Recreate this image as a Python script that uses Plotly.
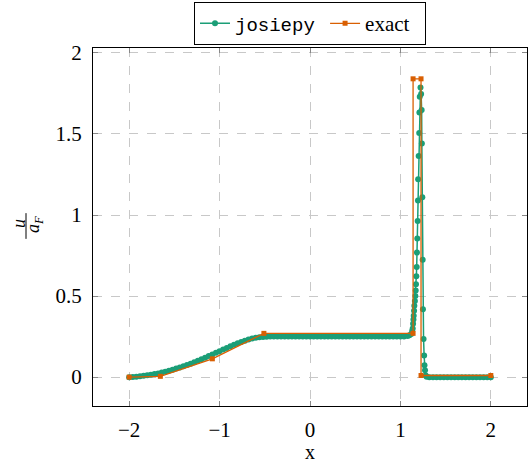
import plotly.graph_objects as go

# ---- data ----
josiepy_x = [
    -2.00, -1.96, -1.92, -1.88, -1.84, -1.80, -1.76, -1.72, -1.68, -1.64,
    -1.60, -1.56, -1.52, -1.48, -1.44, -1.40, -1.36, -1.32, -1.28, -1.24,
    -1.20, -1.16, -1.12, -1.08, -1.04, -1.00, -0.96, -0.92, -0.88, -0.84,
    -0.80, -0.76, -0.72, -0.68, -0.64, -0.60, -0.56, -0.52, -0.48, -0.44,
    -0.40, -0.36, -0.32, -0.28, -0.24, -0.20, -0.16, -0.12, -0.08, -0.04,
    0.00, 0.04, 0.08, 0.12, 0.16, 0.20, 0.24, 0.28, 0.32, 0.36,
    0.40, 0.44, 0.48, 0.52, 0.56, 0.60, 0.64, 0.68, 0.72, 0.76,
    0.80, 0.84, 0.88, 0.92, 0.96, 1.00, 1.04, 1.08, 1.10, 1.12,
    1.130, 1.136, 1.140, 1.144, 1.147, 1.151, 1.154, 1.160, 1.165, 1.169,
    1.172, 1.176, 1.180, 1.183, 1.187, 1.191, 1.194, 1.196, 1.202, 1.208,
    1.210, 1.214, 1.222, 1.229, 1.235, 1.237, 1.242, 1.246, 1.249, 1.256,
    1.262, 1.266, 1.272, 1.280, 1.290,
    1.32, 1.36, 1.40, 1.44, 1.48, 1.52, 1.56, 1.60, 1.64, 1.68,
    1.72, 1.76, 1.80, 1.84, 1.88, 1.92, 1.96, 2.00,
]
josiepy_y = [
    0.000, 0.001, 0.003, 0.005, 0.008, 0.011, 0.015, 0.019, 0.023, 0.028,
    0.034, 0.040, 0.046, 0.053, 0.060, 0.067, 0.075, 0.083, 0.092, 0.101,
    0.110, 0.120, 0.130, 0.140, 0.150, 0.160, 0.170, 0.180, 0.190, 0.200,
    0.209, 0.217, 0.225, 0.232, 0.238, 0.243, 0.246, 0.248, 0.249, 0.250,
    0.250, 0.250, 0.250, 0.250, 0.250, 0.250, 0.250, 0.250, 0.250, 0.250,
    0.250, 0.250, 0.250, 0.250, 0.250, 0.250, 0.250, 0.250, 0.250, 0.250,
    0.250, 0.250, 0.250, 0.250, 0.250, 0.250, 0.250, 0.250, 0.250, 0.250,
    0.250, 0.250, 0.250, 0.250, 0.250, 0.250, 0.251, 0.254, 0.258, 0.266,
    0.285, 0.300, 0.330, 0.355, 0.378, 0.410, 0.440, 0.470, 0.500, 0.535,
    0.573, 0.622, 0.680, 0.768, 0.855, 0.963, 1.090, 1.221, 1.364, 1.506,
    1.632, 1.730, 1.787, 1.746, 1.648, 1.441, 1.110, 0.724, 0.419, 0.236,
    0.134, 0.073, 0.043, 0.010, 0.002,
    0.0, 0.0, 0.0, 0.0, 0.0, 0.0, 0.0, 0.0, 0.0, 0.0,
    0.0, 0.0, 0.0, 0.0, 0.0, 0.0, 0.0, 0.0,
]
exact_x = [-2.00, -1.655, -1.08, -0.51, 1.14, 1.14, 1.228, 1.228, 2.00]
exact_y = [0.000, 0.005, 0.113, 0.270, 0.270, 1.840, 1.840, 0.010, 0.010]

x_ticks = [-2, -1, 0, 1, 2]
y_ticks = [0, 0.5, 1, 1.5, 2]
y_ticklabels = ["0", "0.5", "1", "1.5", "2"]

GREEN = "#1b9e77"
ORANGE = "#d95f02"
SERIF = "Liberation Serif"

fig = go.Figure()
fig.add_trace(go.Scatter(
    x=josiepy_x, y=josiepy_y, mode="lines+markers",
    name='<span style="font-family:Liberation Mono;font-size:19px">josiepy</span>&nbsp;',
    line=dict(color=GREEN, width=1.5),
    marker=dict(symbol="circle", size=6, color=GREEN),
))
fig.add_trace(go.Scatter(
    x=exact_x, y=exact_y, mode="lines+markers", name="exact&nbsp;&nbsp;",
    line=dict(color=ORANGE, width=1.3),
    marker=dict(symbol="square", size=5, color=ORANGE),
))

axis_common = dict(
    showline=True, linecolor="black", linewidth=1, mirror="allticks",
    ticks="inside", ticklen=5, tickcolor="#888888", tickwidth=1,
    showgrid=True, gridcolor="#c8c8c8", griddash="dash", gridwidth=1,
    zeroline=False,
    tickfont=dict(family=SERIF, size=21, color="black"),
)

fig.update_layout(
    width=529, height=463,
    margin=dict(l=93, r=2, t=44, b=57),
    plot_bgcolor="white", paper_bgcolor="white",
    font=dict(family=SERIF, size=21, color="black"),
    xaxis=dict(range=[-2.4, 2.4], tickvals=x_ticks, ticklabelstandoff=5, **axis_common),
    yaxis=dict(range=[-0.178, 2.03], tickvals=y_ticks, ticktext=y_ticklabels,
               ticklabelstandoff=6, **axis_common),
    legend=dict(
        orientation="h", x=0.5, xanchor="center", y=1.008, yanchor="bottom",
        bordercolor="black", borderwidth=1, bgcolor="white",
        font=dict(family=SERIF, size=21, color="black"),
        itemwidth=30, tracegroupgap=0,
    ),
    showlegend=True,
)

# x axis label
fig.add_annotation(text="x", xref="paper", yref="paper", x=0.5, y=(406 - 453) / 362,
                   xanchor="center", yanchor="middle", showarrow=False,
                   font=dict(family=SERIF, size=20, color="black"))
# y axis label: fraction u / a_F, rotated
fig.add_annotation(text="<i>u</i>", xref="paper", yref="paper",
                   x=(19 - 93) / 434, y=(406 - 222) / 362, xanchor="center", yanchor="middle",
                   textangle=-90, showarrow=False,
                   font=dict(family=SERIF, size=18, color="black"))
fig.add_annotation(text="<i>a<sub>F</sub></i>", xref="paper", yref="paper",
                   x=(34 - 93) / 434, y=(406 - 223) / 362, xanchor="center", yanchor="middle",
                   textangle=-90, showarrow=False,
                   font=dict(family=SERIF, size=18, color="black"))
fig.add_shape(type="line", xref="paper", yref="paper",
              x0=(26 - 93) / 434, x1=(26 - 93) / 434,
              y0=(406 - 211) / 362, y1=(406 - 237) / 362,
              line=dict(color="black", width=1))

fig.write_html("out.html", config={"displayModeBar": False},
               post_script="document.body.style.margin='0';")
